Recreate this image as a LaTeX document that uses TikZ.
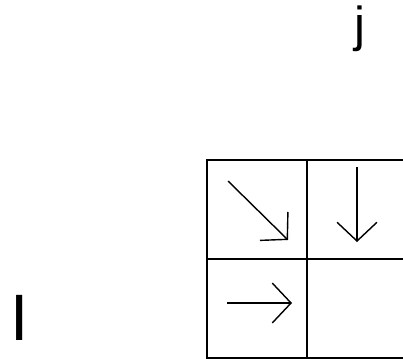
\documentclass[tikz,border=0pt]{standalone}
\usepackage{fontspec}
\setmainfont{Liberation Sans}
\usetikzlibrary{arrows.meta}
\tikzset{
  cellbox/.style={draw=black,line width=1.6pt,minimum width=3cm,minimum height=2.97cm,inner sep=0pt},
  lbl/.style={inner sep=0pt,anchor=base,text=black},
  arr/.style={-{Straight Barb[length=16pt,width=34pt]},line width=1.2pt,draw=black},
}
\begin{document}
\begin{tikzpicture}[x=0.03cm,y=-0.03cm]
\useasboundingbox (0,0) rectangle (403,358);
\clip (0,0) rectangle (403,358);
\node[cellbox] (c11) at (257,209.5) {};
\node[cellbox] (c12) at (357,209.5) {};
\node[cellbox] (c21) at (257,308.5) {};
\node[cellbox] (c22) at (357,308.5) {};
\node[lbl,font=\fontsize{42}{48}\selectfont] (jlab) at (360,41) {j};
\node[lbl,font=\fontsize{56}{64}\selectfont] (ilab) at (20,340) {I};
\coordinate (d1) at (228,181);
\coordinate (d2) at (288,240);
\coordinate (v1) at (357,167);
\coordinate (v2) at (357,242);
\coordinate (h1) at (227,303);
\coordinate (h2) at (292,303);
\draw[arr] (d1) -- (d2);
\draw[arr] (v1) -- (v2);
\draw[arr] (h1) -- (h2);
\end{tikzpicture}
\end{document}
